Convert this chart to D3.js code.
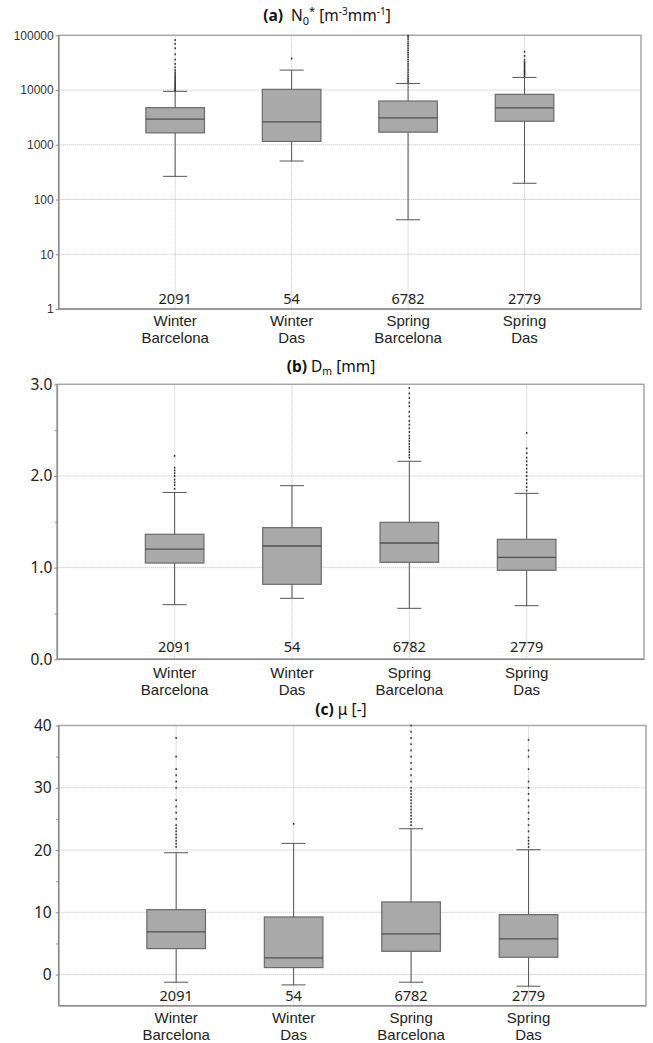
<!DOCTYPE html>
<html>
<head>
<meta charset="utf-8">
<script src="https://cdn.jsdelivr.net/npm/d3@7"></script>
<style>
  body { margin: 0; background: #fff; }
  svg { display: block; }
</style>
</head>
<body>
<svg id="chart" width="653" height="1043"></svg>
<script>
// ---------- DATA ----------
const seasons = ["Winter", "Winter", "Spring", "Spring"];
const sites = ["Barcelona", "Das", "Barcelona", "Das"];
const counts = [2091, 54, 6782, 2779];

// (a) N0* [m^-3 mm^-1]
const n0WhiskerLow = [265, 505, 42.7, 198];
const n0Q1 = [1650, 1150, 1700, 2690];
const n0Median = [2930, 2620, 3100, 4710];
const n0Q3 = [4770, 10300, 6300, 8340];
const n0WhiskerHigh = [9460, 23100, 13200, 17000];
const n0Outliers = [
  [9800, 10000, 10500, 11000, 11600, 12200, 12800, 13500, 14200, 15000, 16000, 17000, 18000, 19500, 21000, 23000, 26000, 30000, 36000, 45000, 58000, 70000, 82000],
  [37700],
  [14000, 15000, 16000, 17500, 19000, 21000, 23000, 25000, 27500, 30000, 33000, 36000, 40000, 44000, 48000, 53000, 58000, 64000, 70000, 77000, 85000, 93000, 99000],
  [18000, 19000, 20000, 21000, 22000, 23000, 24500, 26000, 27500, 29000, 31000, 33000, 36000, 42000, 50000]
];
const n0Ticks = [1, 10, 100, 1000, 10000, 100000];

// (b) Dm [mm]
const dmWhiskerLow = [0.596, 0.665, 0.556, 0.585];
const dmQ1 = [1.05, 0.818, 1.058, 0.971];
const dmMedian = [1.203, 1.236, 1.269, 1.113];
const dmQ3 = [1.364, 1.436, 1.494, 1.309];
const dmWhiskerHigh = [1.82, 1.894, 2.16, 1.81];
const dmOutliers = [
  [1.86, 1.9, 1.93, 1.96, 2.0, 2.03, 2.06, 2.09, 2.22],
  [],
  [2.2, 2.23, 2.26, 2.29, 2.32, 2.35, 2.38, 2.41, 2.44, 2.48, 2.52, 2.56, 2.6, 2.65, 2.7, 2.76, 2.8, 2.85, 2.9, 2.96],
  [1.84, 1.88, 1.92, 1.96, 2.0, 2.04, 2.08, 2.12, 2.16, 2.2, 2.25, 2.3, 2.47]
];
const dmTicks = [0, 1, 2, 3];
const dmMinorTicks = [0.5, 1.5, 2.5];

// (c) mu [-]
const muWhiskerLow = [-1.23, -1.66, -1.23, -1.87];
const muQ1 = [4.17, 1.12, 3.74, 2.78];
const muMedian = [6.85, 2.67, 6.53, 5.72];
const muQ3 = [10.43, 9.25, 11.66, 9.63];
const muWhiskerHigh = [19.57, 21.07, 23.42, 20.05];
const muOutliers = [
  [20.5, 21, 21.5, 22, 22.5, 23, 23.5, 24, 25, 26, 27, 28, 30, 31, 32, 33, 35, 38],
  [24.2],
  [24, 24.5, 25, 25.5, 26, 26.5, 27, 27.5, 28, 28.5, 29, 29.5, 30, 31, 32, 33, 34, 35, 36, 37, 38, 39, 40],
  [20.5, 21, 21.5, 22, 23, 24, 25, 26, 27, 28, 29, 30, 31, 33, 35, 36, 37.7]
];
const muTicks = [0, 10, 20, 30, 40];
const muMinorTicks = [5, 15, 25, 35];

// ---------- DRAW ----------
const svg = d3.select("#chart");
const FONT = "'Noto Sans', 'Open Sans', sans-serif";
const CATFONT = "'Liberation Sans', Arial, sans-serif";

function panel(cfg) {
  const g = svg.append("g");
  const x = d3.scaleLinear().domain([0, 5]).range([cfg.left, cfg.right]);
  const y = cfg.y;

  // grid horizontal
  g.selectAll(".hg").data(cfg.grid).join("line")
    .attr("x1", cfg.left).attr("x2", cfg.right)
    .attr("y1", d => y(d)).attr("y2", d => y(d))
    .attr("stroke", "#bdbdbd").attr("stroke-width", 1)
    .attr("stroke-dasharray", "1,1");
  // grid vertical
  g.selectAll(".vg").data(counts).join("line")
    .attr("x1", (d, i) => x(i + 1)).attr("x2", (d, i) => x(i + 1))
    .attr("y1", cfg.top).attr("y2", cfg.bottom)
    .attr("stroke", "#bdbdbd").attr("stroke-width", 1)
    .attr("stroke-dasharray", "1,1");

  // frame
  g.append("rect")
    .attr("x", cfg.left).attr("y", cfg.top)
    .attr("width", cfg.right - cfg.left).attr("height", cfg.bottom - cfg.top)
    .attr("fill", "none").attr("stroke", "#a6a6a6").attr("stroke-width", 1.5);
  g.append("line").attr("x1", cfg.left).attr("x2", cfg.left)
    .attr("y1", cfg.top).attr("y2", cfg.bottom)
    .attr("stroke", "#8c8c8c").attr("stroke-width", 1.5);
  g.append("line").attr("x1", cfg.left).attr("x2", cfg.right)
    .attr("y1", cfg.bottom).attr("y2", cfg.bottom)
    .attr("stroke", "#8c8c8c").attr("stroke-width", 1.5);

  // y axis
  const ax = g.append("g").attr("transform", `translate(${cfg.left},0)`)
    .call(d3.axisLeft(y).tickValues(cfg.ticks).tickFormat(cfg.fmt)
      .tickSize(3).tickPadding(cfg.pad));
  ax.select(".domain").remove();
  ax.selectAll(".tick line").attr("stroke", "#8c8c8c");
  ax.selectAll(".tick text")
    .attr("font-family", cfg.tickFont).attr("font-size", cfg.tickSize)
    .attr("fill", cfg.tickColor);
  if (cfg.minor) {
    const mx = g.append("g").attr("transform", `translate(${cfg.left},0)`)
      .call(d3.axisLeft(y).tickValues(cfg.minor).tickFormat("").tickSize(2.5));
    mx.select(".domain").remove();
    mx.selectAll(".tick line").attr("stroke", "#8c8c8c");
  }

  const bw = 58.6, cw = 24;
  const boxes = g.selectAll(".box").data(counts).join("g");
  // whiskers
  boxes.append("line")
    .attr("x1", (d, i) => x(i + 1)).attr("x2", (d, i) => x(i + 1))
    .attr("y1", (d, i) => y(cfg.wl[i])).attr("y2", (d, i) => y(cfg.wh[i]))
    .attr("stroke", "#555").attr("stroke-width", 1);
  boxes.append("line")
    .attr("x1", (d, i) => x(i + 1) - cw / 2).attr("x2", (d, i) => x(i + 1) + cw / 2)
    .attr("y1", (d, i) => y(cfg.wl[i])).attr("y2", (d, i) => y(cfg.wl[i]))
    .attr("stroke", "#555").attr("stroke-width", 1);
  boxes.append("line")
    .attr("x1", (d, i) => x(i + 1) - cw / 2).attr("x2", (d, i) => x(i + 1) + cw / 2)
    .attr("y1", (d, i) => y(cfg.wh[i])).attr("y2", (d, i) => y(cfg.wh[i]))
    .attr("stroke", "#555").attr("stroke-width", 1);
  // outliers
  boxes.each(function (d, i) {
    d3.select(this).selectAll("rect.o").data(cfg.out[i]).join("rect")
      .attr("x", x(i + 1) - 0.75).attr("y", v => y(v) - 0.9)
      .attr("width", 1.5).attr("height", 1.8)
      .attr("fill", "#333");
  });
  // box
  boxes.append("rect")
    .attr("x", (d, i) => x(i + 1) - bw / 2)
    .attr("y", (d, i) => y(cfg.q3[i]))
    .attr("width", bw)
    .attr("height", (d, i) => y(cfg.q1[i]) - y(cfg.q3[i]))
    .attr("fill", "#a9a9a9").attr("stroke", "#6a6a6a").attr("stroke-width", 1.2);
  boxes.append("line")
    .attr("x1", (d, i) => x(i + 1) - bw / 2).attr("x2", (d, i) => x(i + 1) + bw / 2)
    .attr("y1", (d, i) => y(cfg.med[i])).attr("y2", (d, i) => y(cfg.med[i]))
    .attr("stroke", "#505050").attr("stroke-width", 1.3);

  // counts
  g.selectAll(".cnt").data(counts).join("text")
    .attr("x", (d, i) => x(i + 1)).attr("y", cfg.bottom - cfg.cntOff)
    .attr("text-anchor", "middle").attr("font-family", FONT)
    .attr("font-size", 14.5).attr("fill", "#222").text(d => d);
  // category labels: two lines
  g.selectAll(".s1").data(seasons).join("text")
    .attr("x", (d, i) => x(i + 1)).attr("y", cfg.bottom + cfg.l1)
    .attr("text-anchor", "middle").attr("font-family", CATFONT)
    .attr("font-size", 15).attr("fill", "#222").text(d => d);
  g.selectAll(".s2").data(sites).join("text")
    .attr("x", (d, i) => x(i + 1)).attr("y", cfg.bottom + cfg.l1 + 17)
    .attr("text-anchor", "middle").attr("font-family", CATFONT)
    .attr("font-size", 15).attr("fill", "#222").text(d => d);

  // title
  const t = svg.append("text").attr("x", cfg.tx).attr("y", cfg.ty)
    .attr("text-anchor", "middle").attr("font-family", FONT)
    .attr("font-size", 15.5).attr("fill", "#111");
  cfg.title(t);
}

// Panel a
{
  const top = 35.3, bottom = 309;
  panel({
    left: 58.7, right: 641, top, bottom,
    y: d3.scaleLog().domain([1, 100000]).range([bottom, top]),
    grid: n0Ticks.slice(1, 5), ticks: n0Ticks, fmt: d3.format("d"),
    pad: 2, tickFont: "'Liberation Sans', Arial, sans-serif", tickSize: 12, tickColor: "#333",
    wl: n0WhiskerLow, q1: n0Q1, med: n0Median, q3: n0Q3, wh: n0WhiskerHigh, out: n0Outliers,
    cntOff: 5, l1: 16.5, tx: 327, ty: 21,
    title: t => {
      t.append("tspan").attr("font-weight", "bold").text("(a)");
      t.append("tspan").text("\u00a0\u00a0N");
      t.append("tspan").attr("font-size", 11).attr("dy", 4).text("0");
      t.append("tspan").attr("font-size", 11).attr("dy", -10).text("*");
      t.append("tspan").attr("dy", 6).text(" [m");
      t.append("tspan").attr("font-size", 10).attr("dy", -6).text("-3");
      t.append("tspan").attr("dy", 6).text("mm");
      t.append("tspan").attr("font-size", 10).attr("dy", -6).text("-1");
      t.append("tspan").attr("dy", 6).text("]");
    }
  });
}
// Panel b
{
  const top = 384.3, bottom = 659.3;
  panel({
    left: 57.3, right: 644, top, bottom,
    y: d3.scaleLinear().domain([0, 3]).range([bottom, top]),
    grid: [1, 2], ticks: dmTicks, fmt: d3.format(".1f"), minor: dmMinorTicks,
    pad: 2, tickFont: FONT, tickSize: 15.5, tickColor: "#222",
    wl: dmWhiskerLow, q1: dmQ1, med: dmMedian, q3: dmQ3, wh: dmWhiskerHigh, out: dmOutliers,
    cntOff: 7, l1: 18.5, tx: 331, ty: 372,
    title: t => {
      t.append("tspan").attr("font-weight", "bold").text("(b)");
      t.append("tspan").text(" D");
      t.append("tspan").attr("font-size", 10.5).attr("dy", 3).text("m");
      t.append("tspan").attr("dy", -3).text(" [mm]");
    }
  });
}
// Panel c
{
  const top = 725.5, bottom = 1005.7;
  panel({
    left: 58.7, right: 646, top, bottom,
    y: d3.scaleLinear().domain([-5, 40]).range([bottom, top]),
    grid: [0, 10, 20, 30], ticks: muTicks, fmt: d3.format("d"), minor: muMinorTicks,
    pad: 4, tickFont: FONT, tickSize: 15.5, tickColor: "#222",
    wl: muWhiskerLow, q1: muQ1, med: muMedian, q3: muQ3, wh: muWhiskerHigh, out: muOutliers,
    cntOff: 5, l1: 17, tx: 341, ty: 715,
    title: t => {
      t.append("tspan").attr("font-weight", "bold").text("(c)");
      t.append("tspan").text(" \u03bc [-]");
    }
  });
}
</script>
</body>
</html>
